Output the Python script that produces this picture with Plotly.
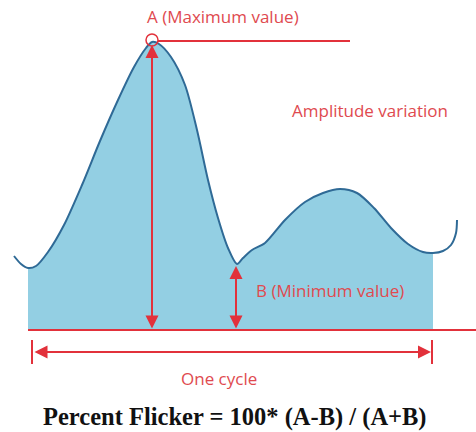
"""Percent flicker diagram: one cycle of a light waveform with A/B markers."""

import plotly.graph_objects as go

# Waveform: horizontal position (px) and signal level above the baseline
wave_x = [14, 21, 28, 36, 48, 64, 82, 100, 118, 134, 146, 152, 159, 171,
          185, 197, 208, 218, 228, 237, 243, 252, 265, 285, 305, 323, 340,
          357, 374, 391, 408, 423, 433, 443, 451, 456, 457]
wave_y = [74, 66, 62, 64, 78, 105, 145, 189, 230, 263, 282, 288, 286, 273,
          245, 200, 150, 112, 82, 66, 72, 80, 87, 110, 128, 137, 141,
          137, 122, 102, 86, 78, 77, 79, 85, 97, 110]

cycle_start, cycle_end = 28, 433      # filled part of the wave
a_x, a_level = 152, 288               # maximum value
b_x, b_level = 237, 66                # minimum value

RED = "#e2313b"
TEXT_RED = "#e04a4f"
FILL = "#93cfe3"
LINE = "#2f6a96"

fill_x = [x for x in wave_x if cycle_start <= x <= cycle_end]
fill_y = [y for x, y in zip(wave_x, wave_y) if cycle_start <= x <= cycle_end]

fig = go.Figure()
fig.add_trace(go.Scatter(
    x=fill_x, y=fill_y, mode="lines", fill="tozeroy", fillcolor=FILL,
    line=dict(width=0, shape="spline", smoothing=0.8, color=FILL), hoverinfo="skip",
))
fig.add_trace(go.Scatter(
    x=wave_x, y=wave_y, mode="lines",
    line=dict(width=2, shape="spline", smoothing=0.8, color=LINE), hoverinfo="skip",
))

# baseline, max reference line, peak circle, cycle ticks
fig.add_shape(type="line", x0=cycle_start, x1=476, y0=0, y1=0,
              line=dict(color=RED, width=2))
fig.add_shape(type="line", x0=a_x + 6, x1=350, y0=a_level + 1, y1=a_level + 1,
              line=dict(color=RED, width=2))
fig.add_shape(type="circle", x0=a_x - 6, x1=a_x + 6, y0=a_level - 4, y1=a_level + 8,
              line=dict(color=RED, width=1.5))
for tx in (32, 432):
    fig.add_shape(type="line", x0=tx, x1=tx, y0=-10, y1=-34,
                  line=dict(color=RED, width=2))


def double_arrow(x0, y0, x1, y1):
    fig.add_annotation(
        x=x1, y=y1, ax=x0, ay=y0, xref="x", yref="y", axref="x", ayref="y",
        text="", showarrow=True, arrowhead=2, arrowside="end+start",
        arrowsize=1.3, arrowwidth=2, arrowcolor=RED, standoff=0, startstandoff=0,
    )


double_arrow(a_x, 0, a_x, a_level - 3)
double_arrow(b_x - 1, 0, b_x - 1, b_level - 2)
double_arrow(33, -22, 431, -22)

labels = [
    ("A (Maximum value)", 223, 314),
    ("Amplitude variation", 370, 220),
    ("B (Minimum value)", 330, 40),
    ("One cycle", 219, -48),
]
for text, lx, ly in labels:
    fig.add_annotation(x=lx, y=ly, text=text, showarrow=False,
                       font=dict(family="Open Sans", size=17, color=TEXT_RED))

fig.add_annotation(x=235, y=-87, text="<b>Percent Flicker = 100* (A-B) / (A+B)</b>",
                   showarrow=False,
                   font=dict(family="Liberation Serif", size=24.5, color="#111111"))

fig.update_layout(
    width=476, height=432, margin=dict(l=0, r=0, t=0, b=0),
    paper_bgcolor="white", plot_bgcolor="white", showlegend=False,
    xaxis=dict(range=[0, 476], visible=False, fixedrange=True),
    yaxis=dict(range=[-102, 330], visible=False, fixedrange=True),
)
fig.write_html("out.html", config={"displayModeBar": False},
               post_script="document.body.style.margin='0';")
